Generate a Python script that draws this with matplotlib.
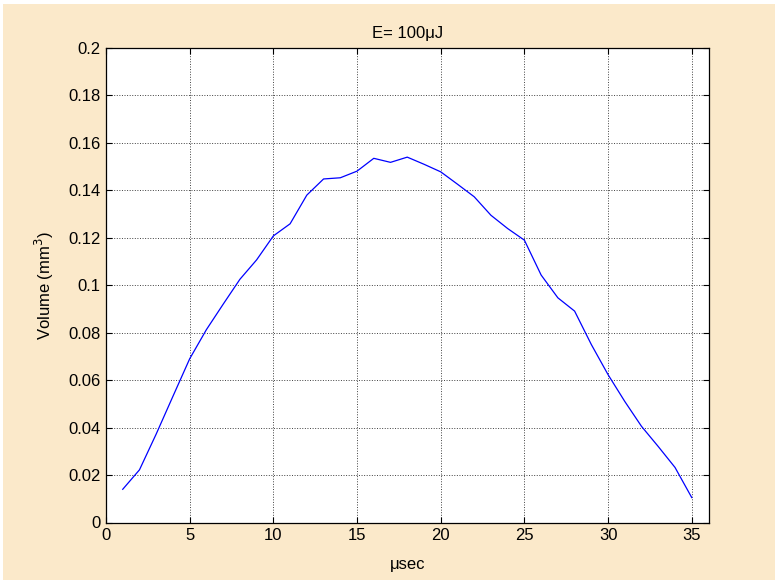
import matplotlib
matplotlib.use('Agg')
import matplotlib.pyplot as plt
from matplotlib.patches import Rectangle

plt.rcParams['font.family'] = ['Liberation Sans', 'DejaVu Sans']

# pulse time (usec) and ablated volume (mm^3)
t_us = list(range(1, 36))
volume = [0.0140, 0.0222, 0.0373, 0.0532, 0.0690, 0.0813, 0.0920, 0.1025, 0.1107, 0.1208,
          0.1259, 0.1380, 0.1448, 0.1453, 0.1481, 0.1535, 0.1518, 0.1540, 0.1510, 0.1478,
          0.1426, 0.1373, 0.1295, 0.1239, 0.1190, 0.1043, 0.0947, 0.0891, 0.0750, 0.0623,
          0.0510, 0.0405, 0.0320, 0.0232, 0.0105]
x_ticks = [0, 5, 10, 15, 20, 25, 30, 35]
y_ticks = [0, 0.02, 0.04, 0.06, 0.08, 0.1, 0.12, 0.14, 0.16, 0.18, 0.2]
y_labels = ['0', '0.02', '0.04', '0.06', '0.08', '0.1', '0.12', '0.14', '0.16', '0.18', '0.2']

W, H = 775, 586
fig = plt.figure(figsize=(W / 100, H / 100), dpi=100, facecolor='white')

# beige panel, slightly inset like the screenshot
bg = Rectangle((3 / W, 6 / H), (W - 3) / W, (H - 10) / H,
               transform=fig.transFigure, facecolor='#FBE9CA',
               edgecolor='none', zorder=-10)
fig.add_artist(bg)

ax = fig.add_axes([106 / W, (H - 522.5) / H, (708.5 - 106) / W, (522.5 - 48) / H])
ax.set_facecolor('white')

ax.plot(t_us, volume, color='#0000FF', lw=0.9)

ax.set_xlim(0, 36)
ax.set_ylim(0, 0.2)
ax.set_xticks(x_ticks)
ax.set_yticks(y_ticks)
ax.set_yticklabels(y_labels)
ax.tick_params(direction='in', top=True, right=True, labelsize=12, length=4, width=0.8, pad=4)
ax.grid(True, linestyle=':', color='#404040', lw=0.7)
for s in ax.spines.values():
    s.set_linewidth(0.9)

ax.set_title('E= 100\u03bcJ', fontsize=12, pad=7)
ax.set_xlabel('\u03bcsec', fontsize=12, labelpad=10)
ax.set_ylabel('Volume (mm$^3$)', fontsize=12, labelpad=9)

fig.savefig('out.png', dpi=100, facecolor=fig.get_facecolor())
